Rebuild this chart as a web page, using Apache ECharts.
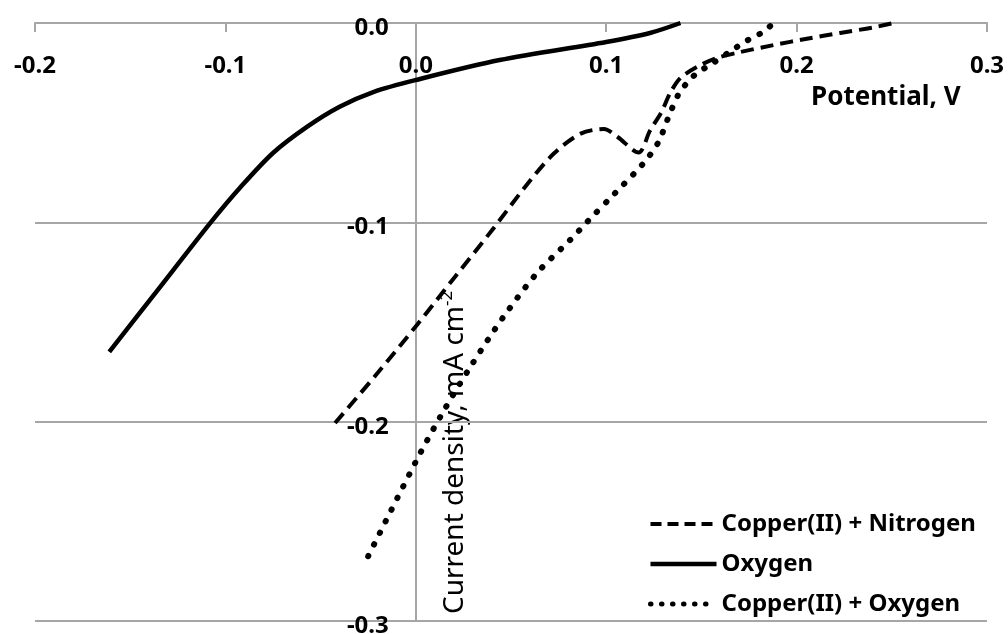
<!DOCTYPE html>
<html>
<head>
<meta charset="utf-8">
<script src="https://cdn.jsdelivr.net/npm/echarts@6/dist/echarts.min.js"></script>
<style>
html,body{margin:0;padding:0;background:#fff;}
#chart{width:1008px;height:634px;}
</style>
</head>
<body>
<div id="chart"></div>
<script>
// ---- data ----
var seriesNames = ['Copper(II) + Nitrogen', 'Oxygen', 'Copper(II) + Oxygen'];

var cuN2X = [-0.0424, -0.02, 0.0006, 0.02, 0.04, 0.058, 0.0725, 0.0866, 0.0988, 0.106, 0.117, 0.123, 0.129, 0.1336, 0.139, 0.1477, 0.158, 0.1703, 0.1878, 0.2054, 0.2229, 0.2404, 0.2509];
var cuN2Y = [-0.2007, -0.1755, -0.1515, -0.128, -0.104, -0.0815, -0.0655, -0.0555, -0.0532, -0.0572, -0.0650, -0.054, -0.0447, -0.0351, -0.0276, -0.022, -0.0176, -0.0146, -0.0111, -0.0079, -0.0050, -0.0022, 0.0];

var o2X = [-0.161, -0.136, -0.108, -0.092, -0.075, -0.057, -0.040, -0.022, 0.0, 0.044, 0.1, 0.123, 0.139];
var o2Y = [-0.165, -0.1345, -0.1004, -0.0823, -0.0652, -0.052, -0.042, -0.0345, -0.0286, -0.0186, -0.0095, -0.005, 0.0];

var cuO2X = [-0.025, 0.0006, 0.0144, 0.0286, 0.046, 0.0637, 0.081, 0.09, 0.1047, 0.119, 0.1273, 0.1325, 0.1378, 0.1424, 0.1477, 0.1545, 0.164, 0.1703, 0.1764, 0.1825, 0.1878];
var cuO2Y = [-0.2675, -0.219, -0.195, -0.1726, -0.1475, -0.1254, -0.1089, -0.0998, -0.0853, -0.071, -0.060, -0.0477, -0.0361, -0.0301, -0.0251, -0.0211, -0.015, -0.011, -0.0075, -0.0045, 0.0];

var xTitle = 'Potential, V';
var yTitle = 'Current density, mA cm';
var yTitleSup = '-2';

function pairs(xs, ys) {
  return xs.map(function (x, i) { return [x, ys[i]]; });
}

var FONT = '"Noto Sans"';
var chart = echarts.init(document.getElementById('chart'));
var gridColor = '#a6a6a6';

var gridLeft = 35, gridRight = 21, xMin = -0.2, xMax = 0.3;
var gridWidth = 1008 - gridLeft - gridRight;
// y axis drawn where x = 0
var yAxisOffset = -gridWidth * (0 - xMin) / (xMax - xMin);

var styles = [
  { color: '#000', width: 4, type: [13, 7], cap: 'butt' },
  { color: '#000', width: 4.5, type: 'solid', cap: 'butt' },
  { color: '#000', width: 6, type: [0.5, 12.5], cap: 'round' }
];
var legendStyles = [
  { color: '#000', width: 4, type: [11, 6], cap: 'butt' },
  { color: '#000', width: 4.5, type: 'solid', cap: 'butt' },
  { color: '#000', width: 5, type: [0.5, 10.5], cap: 'round' }
];

chart.setOption({
  animation: false,
  backgroundColor: '#ffffff',
  grid: { left: gridLeft, right: gridRight, top: 23, bottom: 13, containLabel: false, outerBoundsMode: 'none' },
  xAxis: {
    type: 'value', position: 'top',
    min: xMin, max: xMax, interval: 0.1,
    axisLine: { onZero: false, lineStyle: { color: gridColor, width: 2 } },
    axisTick: { show: true, inside: true, length: 9, lineStyle: { color: gridColor, width: 2 } },
    splitLine: { show: false },
    axisLabel: {
      inside: true,
      margin: 31, color: '#000', fontFamily: FONT, fontWeight: 'bold', fontSize: 24,
      formatter: function (v) { return v.toFixed(1); }
    }
  },
  yAxis: {
    type: 'value', position: 'left', offset: yAxisOffset,
    min: -0.3, max: 0, interval: 0.1,
    axisLine: { show: true, onZero: false, lineStyle: { color: gridColor, width: 2 } },
    axisTick: { show: true, length: 9, lineStyle: { color: gridColor, width: 2 } },
    splitLine: { show: true, lineStyle: { color: gridColor, width: 2 } },
    axisLabel: {
      margin: 27, color: '#000',
      formatter: function (v) { return '{t|' + v.toFixed(1) + '}'; },
      rich: { t: { fontFamily: FONT, fontWeight: 'bold', fontSize: 24, color: '#000', padding: [10, 0, 0, 0] } }
    }
  },
  legend: {
    orient: 'vertical',
    left: 648, top: 512, padding: 0,
    itemWidth: 66, itemHeight: 20, itemGap: 16,
    itemStyle: { color: 'rgba(0,0,0,0)', borderWidth: 0, opacity: 0 },
    textStyle: { color: '#000', fontFamily: FONT, fontWeight: 'bold', fontSize: 24, lineHeight: 22 },
    data: seriesNames.map(function (n, i) { return { name: n, lineStyle: legendStyles[i] }; })
  },
  graphic: [
    {
      type: 'text', left: 811, top: 85,
      style: { text: xTitle, fill: '#000', font: 'bold 26px ' + FONT }
    },
    {
      type: 'text', x: 455, y: 614, rotation: Math.PI / 2,
      style: {
        text: yTitle + '{sup|' + yTitleSup + '}',
        fill: '#000', fontFamily: FONT, fontSize: 28,
        align: 'left', verticalAlign: 'middle',
        rich: { sup: { fontSize: 17, fontFamily: FONT, fill: '#000', padding: [0, 0, 16, 0] } }
      }
    }
  ],
  series: seriesNames.map(function (n, i) {
    var d = [pairs(cuN2X, cuN2Y), pairs(o2X, o2Y), pairs(cuO2X, cuO2Y)][i];
    return {
      name: n, type: 'line', data: d,
      showSymbol: false, symbol: 'none', smooth: 0.3,
      lineStyle: styles[i], itemStyle: { color: '#000' }
    };
  })
});
</script>
</body>
</html>
